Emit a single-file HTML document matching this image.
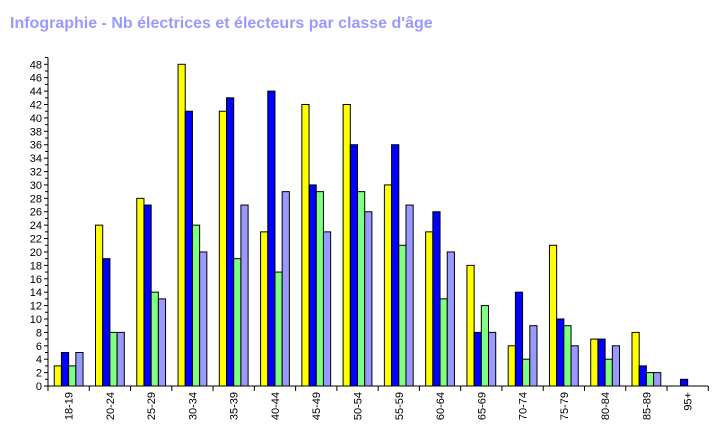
<!DOCTYPE html>
<html><head><meta charset="utf-8"><style>
body{margin:0;background:#fff;width:728px;height:429px;overflow:hidden}
svg{display:block}
</style></head><body>
<svg id="c" width="728" height="429" xmlns="http://www.w3.org/2000/svg">
<text x="10" y="28" font-family="Liberation Sans, sans-serif" font-size="16" font-weight="bold" fill="#9999ff">Infographie - Nb électrices et électeurs par classe d'âge</text>
</svg>
<script>
const categories=["18-19","20-24","25-29","30-34","35-39","40-44","45-49","50-54","55-59","60-64","65-69","70-74","75-79","80-84","85-89","95+"];
const seriesYellow=[3,24,28,48,41,23,42,42,30,23,18,6,21,7,8,0];
const seriesBlue=[5,19,27,41,43,44,30,36,36,26,8,14,10,7,3,1];
const seriesGreen=[3,8,14,24,19,17,29,29,21,13,12,4,9,4,2,0];
const seriesLavender=[5,8,13,20,27,29,23,26,27,20,8,9,6,6,2,0];
const yTicks=[0,2,4,6,8,10,12,14,16,18,20,22,24,26,28,30,32,34,36,38,40,42,44,46,48];
const yMax=49;

const svg=document.getElementById('c');
const NS='http://www.w3.org/2000/svg';
const x0=48,x1=708.3,y0=386,pxPerUnit=(386-64.3)/48;
const catW=(x1-x0)/categories.length;
const yS=v=>y0-v*pxPerUnit;
const xS=i=>x0+i*catW;
function mk(t,a){const e=document.createElementNS(NS,t);for(const k in a)e.setAttribute(k,a[k]);svg.appendChild(e);return e;}

const series=[[seriesYellow,'#ffff00','yellow'],[seriesBlue,'#0000ff','blue'],[seriesGreen,'#80ff80','green'],[seriesLavender,'#9999ff','lavender']];
const bw=7.2;
categories.forEach((c,i)=>{
  const cx=xS(i)+catW/2;
  series.forEach((s,j)=>{
    const v=s[0][i];
    if(v<=0)return;
    const bx=cx-2*bw+j*bw;
    const r=mk('rect',{x:bx,y:yS(v),width:bw,height:y0-yS(v),fill:s[1],stroke:'#000','stroke-width':1});
    
    
  });
});

// axes
let a=mk('line',{x1:x0,y1:yS(yMax),x2:x0,y2:y0,stroke:'#000','stroke-width':1});


a=mk('line',{x1:x0,y1:y0,x2:x1,y2:y0,stroke:'#000','stroke-width':1});



for(let v=0;v<=yMax;v++){
  mk('line',{x1:x0-(v%2==0?4:3),y1:yS(v),x2:x0,y2:yS(v),stroke:'#000','stroke-width':1});
}
yTicks.forEach(v=>{
  const t=mk('text',{x:42,y:yS(v)+4,'text-anchor':'end','font-family':'Liberation Sans, sans-serif','font-size':11,fill:'#000'});
  t.textContent=v;
  
  
});
for(let i=0;i<=categories.length;i++){
  mk('line',{x1:xS(i),y1:y0,x2:xS(i),y2:y0+5,stroke:'#000','stroke-width':1});
}
categories.forEach((c,i)=>{
  const cx=xS(i)+catW/2+4;
  const t=mk('text',{x:cx,y:y0+6,'text-anchor':'end','font-family':'Liberation Sans, sans-serif','font-size':11,fill:'#000',transform:'rotate(-90 '+cx+' '+(y0+6)+')'});
  t.textContent=c;
  
  
});
</script>
</body></html>
